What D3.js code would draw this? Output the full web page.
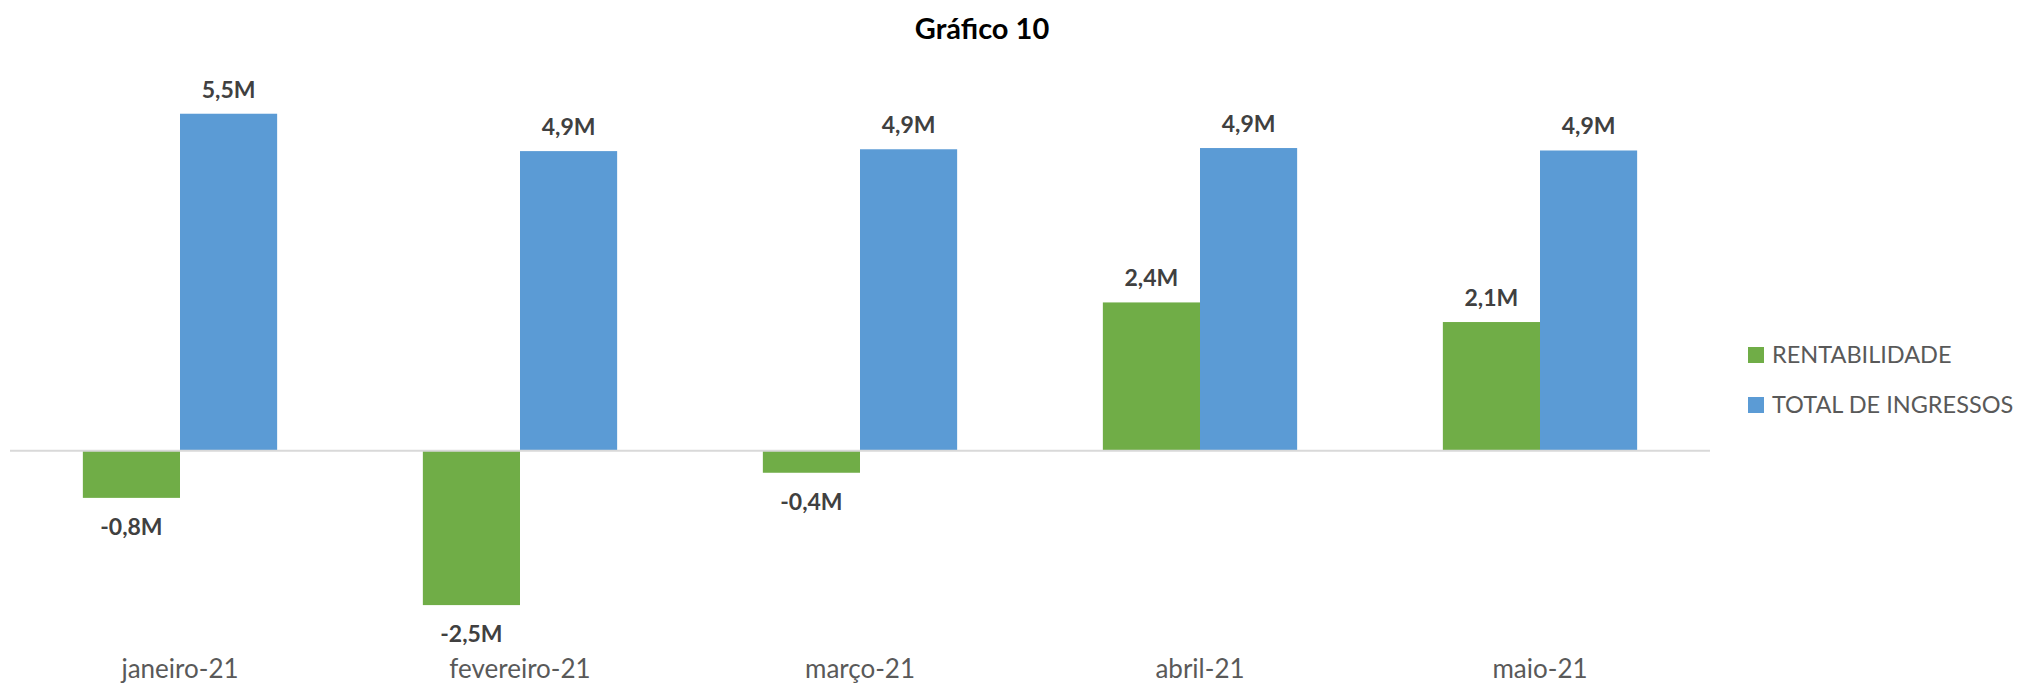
<!DOCTYPE html>
<html>
<head>
<meta charset="utf-8">
<script src="https://cdn.jsdelivr.net/npm/d3@7"></script>
<style>
  html, body { margin: 0; padding: 0; background: #ffffff; }
  svg { display: block; }
</style>
</head>
<body>
<div id="chart"></div>
<script>
const categories = ["janeiro-21", "fevereiro-21", "março-21", "abril-21", "maio-21"];
const seriesNames = ["RENTABILIDADE", "TOTAL DE INGRESSOS"];
const rentabilidade = [-0.77e6, -2.52e6, -0.36e6, 2.42e6, 2.10e6];
const totalIngressos = [5.50e6, 4.89e6, 4.92e6, 4.94e6, 4.90e6];
const yDomain = [-3e6, 6e6];
const title = "Gráfico 10";

const W = 2022, H = 686;
const colors = {"RENTABILIDADE": "#70ad47", "TOTAL DE INGRESSOS": "#5b9bd5"};
const font = "Lato, 'Open Sans', sans-serif";

const svg = d3.select("#chart").append("svg").attr("width", W).attr("height", H);

const x0 = d3.scaleBand().domain(categories).range([10, 1710]).padding(0);
const x1 = d3.scaleBand().domain(seriesNames).range([0, x0.bandwidth()]).paddingInner(0).paddingOuter(0.75);
const y = d3.scaleLinear().domain(yDomain).range([634.5, 83.1]);

const locale = d3.formatLocale({decimal: ",", thousands: ".", grouping: [3], currency: ["R$", ""], minus: "-"});
const fmt = v => locale.format(".1f")(v / 1e6) + "M";

const data = categories.map((c, i) => ({
  cat: c,
  vals: [
    {s: seriesNames[0], v: rentabilidade[i]},
    {s: seriesNames[1], v: totalIngressos[i]}
  ]
}));

// title
svg.append("text").attr("x", 982).attr("y", 39).attr("text-anchor", "middle")
  .attr("font-family", font).attr("font-weight", "bold").attr("font-size", 29)
  .attr("fill", "#000").text(title);

const g = svg.selectAll("g.cat").data(data).join("g").attr("class", "cat")
  .attr("transform", d => `translate(${x0(d.cat)},0)`);

g.selectAll("rect").data(d => d.vals).join("rect")
  .attr("x", d => x1(d.s))
  .attr("width", x1.bandwidth())
  .attr("y", d => Math.min(y(d.v), y(0)))
  .attr("height", d => Math.abs(y(d.v) - y(0)))
  .attr("fill", d => colors[d.s]);

// zero axis line
svg.append("line").attr("x1", 10).attr("x2", 1710).attr("y1", y(0)).attr("y2", y(0))
  .attr("stroke", "#d9d9d9").attr("stroke-width", 2);

// data labels
g.selectAll("text.lbl").data(d => d.vals).join("text").attr("class", "lbl")
  .attr("x", d => x1(d.s) + x1.bandwidth() / 2)
  .attr("y", d => d.v >= 0 ? y(d.v) - 16 : y(d.v) + 37)
  .attr("text-anchor", "middle")
  .attr("font-family", font).attr("font-weight", "bold").attr("font-size", 23)
  .attr("fill", "#404040").text(d => fmt(d.v));

// category axis labels
const xAxis = d3.axisBottom(x0).tickSize(0).tickPadding(0);
const ax = svg.append("g").attr("transform", "translate(0,678)").call(xAxis);
ax.select(".domain").remove();
ax.selectAll("text").attr("font-family", font).attr("font-size", 26)
  .attr("fill", "#595959").attr("y", 0).attr("dy", 0);

// legend
const leg = svg.selectAll("g.leg").data(seriesNames).join("g").attr("class", "leg")
  .attr("transform", (d, i) => `translate(1748,${347 + i * 50})`);
leg.append("rect").attr("width", 16).attr("height", 16).attr("fill", d => colors[d]);
leg.append("text").attr("x", 24).attr("y", 16).attr("font-family", font).attr("font-size", 23.5)
  .attr("fill", "#595959").text(d => d);
</script>
</body>
</html>
